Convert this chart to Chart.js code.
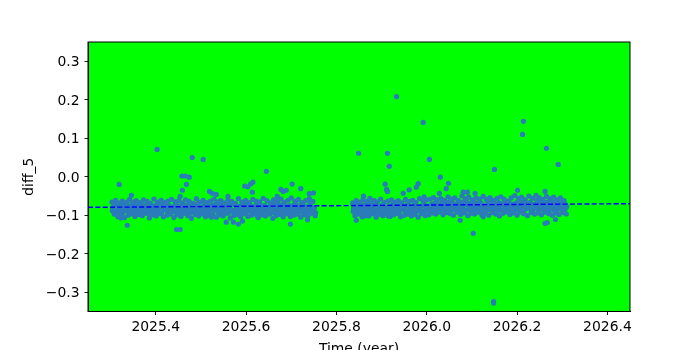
<!DOCTYPE html>
<html><head><meta charset="utf-8">
<script src="https://cdn.jsdelivr.net/npm/chart.js@4"></script>
<style>html,body{margin:0;padding:0;background:#fff;overflow:hidden}</style>
</head><body><canvas id="c" width="700" height="350"></canvas>
<script>
const xTicks = [2025.4, 2025.6, 2025.8, 2026.0, 2026.2, 2026.4];
const yTicks = [-0.3, -0.2, -0.1, 0.0, 0.1, 0.2, 0.3];
const xLabel = 'Time (year)';
const yLabel = 'diff_5';

const season1Years = [
2025.303,2025.306,2025.304,2025.308, 2025.311,2025.314,2025.312,2025.316, 2025.318,2025.321,2025.319,2025.323,
2025.326,2025.329,2025.327,2025.331, 2025.334,2025.337,2025.335,2025.339, 2025.342,2025.345,2025.343,2025.347,
2025.349,2025.352,2025.350,2025.354, 2025.357,2025.360,2025.358,2025.362, 2025.365,2025.368,2025.366,2025.370,
2025.373,2025.376,2025.374,2025.378, 2025.381,2025.384,2025.382,2025.386, 2025.388,2025.391,2025.389,2025.393,
2025.396,2025.399,2025.397,2025.401, 2025.404,2025.407,2025.405,2025.409, 2025.412,2025.415,2025.413,2025.417,
2025.420,2025.423,2025.421,2025.425, 2025.427,2025.430,2025.428,2025.432, 2025.435,2025.438,2025.436,2025.440,
2025.443,2025.446,2025.444,2025.448, 2025.451,2025.454,2025.452,2025.456, 2025.459,2025.462,2025.460,2025.464,
2025.466,2025.469,2025.467,2025.471, 2025.474,2025.477,2025.475,2025.479, 2025.482,2025.485,2025.483,2025.487,
2025.490,2025.493,2025.491,2025.495, 2025.498,2025.501,2025.499,2025.503, 2025.505,2025.508,2025.506,2025.510,
2025.513,2025.516,2025.514,2025.518, 2025.521,2025.524,2025.522,2025.526, 2025.529,2025.532,2025.530,2025.534,
2025.537,2025.540,2025.538,2025.542, 2025.544,2025.547,2025.545,2025.549, 2025.552,2025.555,2025.553,2025.557,
2025.560,2025.563,2025.561,2025.565, 2025.568,2025.571,2025.569,2025.573, 2025.576,2025.579,2025.577,2025.581,
2025.583,2025.586,2025.584,2025.588, 2025.591,2025.594,2025.592,2025.596, 2025.599,2025.602,2025.600,2025.604,
2025.607,2025.610,2025.608,2025.612, 2025.615,2025.618,2025.616,2025.620, 2025.622,2025.625,2025.623,2025.627,
2025.630,2025.633,2025.631,2025.635, 2025.638,2025.641,2025.639,2025.643, 2025.646,2025.649,2025.647,2025.651,
2025.654,2025.657,2025.655,2025.659, 2025.661,2025.664,2025.662,2025.666, 2025.669,2025.672,2025.670,2025.674,
2025.677,2025.680,2025.678,2025.682, 2025.685,2025.688,2025.686,2025.690, 2025.693,2025.696,2025.694,2025.698,
2025.700,2025.703,2025.701,2025.705, 2025.708,2025.711,2025.709,2025.713, 2025.716,2025.719,2025.717,2025.721,
2025.724,2025.727,2025.725,2025.729, 2025.732,2025.735,2025.733,2025.737, 2025.740,2025.743,2025.741,2025.745,
2025.748,2025.751,2025.749,2025.753,
2025.319,2025.346,2025.337,2025.323,2025.403,2025.446,2025.454,2025.458,2025.466,2025.474,2025.468,2025.459,
2025.454,2025.481,2025.505,2025.519,2025.525,2025.534,2025.523,2025.560,2025.556,2025.572,2025.583,2025.592,
2025.597,2025.604,2025.610,2025.615,2025.614,2025.626,2025.645,2025.669,2025.677,2025.682,2025.689,2025.698,
2025.702,2025.721,2025.736,2025.740,2025.749
];
const season1Diff = [
-0.066,-0.078,-0.088,-0.097, -0.061,-0.074,-0.091,-0.104, -0.068,-0.081,-0.086,-0.099,
-0.063,-0.072,-0.093,-0.106, -0.070,-0.077,-0.085,-0.100, -0.059,-0.075,-0.090,-0.096,
-0.065,-0.080,-0.087,-0.103, -0.062,-0.073,-0.092,-0.098, -0.067,-0.079,-0.084,-0.101,
-0.060,-0.076,-0.089,-0.095, -0.064,-0.071,-0.094,-0.107, -0.069,-0.082,-0.086,-0.099,
-0.058,-0.074,-0.091,-0.102, -0.066,-0.078,-0.088,-0.096, -0.061,-0.072,-0.093,-0.104,
-0.067,-0.080,-0.085,-0.100, -0.063,-0.075,-0.090,-0.097, -0.059,-0.079,-0.087,-0.106,
-0.065,-0.073,-0.092,-0.099, -0.062,-0.077,-0.084,-0.103, -0.068,-0.081,-0.089,-0.095,
-0.060,-0.074,-0.094,-0.101, -0.064,-0.078,-0.086,-0.108, -0.069,-0.071,-0.091,-0.098,
-0.057,-0.076,-0.088,-0.102, -0.066,-0.080,-0.085,-0.096, -0.061,-0.073,-0.093,-0.104,
-0.067,-0.079,-0.087,-0.100, -0.063,-0.075,-0.090,-0.097, -0.058,-0.072,-0.084,-0.105,
-0.065,-0.081,-0.092,-0.099, -0.062,-0.077,-0.089,-0.102, -0.068,-0.074,-0.086,-0.095,
-0.060,-0.079,-0.094,-0.107, -0.064,-0.071,-0.088,-0.101, -0.069,-0.082,-0.085,-0.098,
-0.057,-0.076,-0.091,-0.104, -0.066,-0.073,-0.087,-0.096, -0.061,-0.080,-0.093,-0.103,
-0.067,-0.075,-0.084,-0.100, -0.059,-0.078,-0.090,-0.097, -0.063,-0.072,-0.088,-0.106,
-0.065,-0.081,-0.092,-0.099, -0.056,-0.074,-0.086,-0.102, -0.062,-0.079,-0.089,-0.095,
-0.068,-0.076,-0.094,-0.108, -0.060,-0.071,-0.085,-0.101, -0.064,-0.080,-0.091,-0.098,
-0.058,-0.073,-0.087,-0.104, -0.066,-0.077,-0.093,-0.096, -0.061,-0.082,-0.088,-0.103,
-0.055,-0.075,-0.084,-0.100, -0.063,-0.072,-0.090,-0.097, -0.059,-0.079,-0.086,-0.105,
-0.067,-0.074,-0.092,-0.099, -0.062,-0.078,-0.089,-0.102, -0.057,-0.076,-0.085,-0.095,
-0.064,-0.080,-0.091,-0.101,
-0.020,-0.048,-0.126,-0.107,0.071,-0.137,-0.137,0.002,0.002,-0.001,-0.020,-0.035,
-0.051,0.050,0.045,-0.038,-0.043,-0.046,-0.105,-0.051,-0.118,-0.118,-0.123,-0.115,
-0.024,-0.026,-0.019,-0.014,-0.040,-0.104,0.014,-0.051,-0.033,-0.038,-0.035,-0.123,
-0.019,-0.031,-0.112,-0.044,-0.042
];
const season1CoreYears = [
2025.305,2025.309, 2025.313,2025.317, 2025.320,2025.324, 2025.328,2025.332, 2025.336,2025.340, 2025.344,2025.348,
2025.351,2025.355, 2025.359,2025.363, 2025.367,2025.371, 2025.375,2025.379, 2025.383,2025.387, 2025.390,2025.394,
2025.398,2025.402, 2025.406,2025.410, 2025.414,2025.418, 2025.422,2025.426, 2025.429,2025.433, 2025.437,2025.441,
2025.445,2025.449, 2025.453,2025.457, 2025.461,2025.465, 2025.468,2025.472, 2025.476,2025.480, 2025.484,2025.488,
2025.492,2025.496, 2025.500,2025.504, 2025.507,2025.511, 2025.515,2025.519, 2025.523,2025.527, 2025.531,2025.535,
2025.539,2025.543, 2025.546,2025.550, 2025.554,2025.558, 2025.562,2025.566, 2025.570,2025.574, 2025.578,2025.582,
2025.585,2025.589, 2025.593,2025.597, 2025.601,2025.605, 2025.609,2025.613, 2025.617,2025.621, 2025.624,2025.628,
2025.632,2025.636, 2025.640,2025.644, 2025.648,2025.652, 2025.656,2025.660, 2025.663,2025.667, 2025.671,2025.675,
2025.679,2025.683, 2025.687,2025.691, 2025.695,2025.699, 2025.702,2025.706, 2025.710,2025.714, 2025.718,2025.722,
2025.726,2025.730, 2025.734,2025.738, 2025.742,2025.746, 2025.750,2025.754
];
const season1CoreDiff = [
-0.083,-0.092, -0.070,-0.085, -0.094,-0.076, -0.081,-0.088, -0.066,-0.093, -0.084,-0.079,
-0.072,-0.095, -0.086,-0.081, -0.091,-0.073, -0.079,-0.087, -0.083,-0.097, -0.075,-0.090,
-0.087,-0.082, -0.093,-0.071, -0.080,-0.086, -0.074,-0.095, -0.085,-0.082, -0.091,-0.077,
-0.078,-0.088, -0.088,-0.094, -0.076,-0.083, -0.084,-0.091, -0.095,-0.072, -0.081,-0.086,
-0.070,-0.092, -0.087,-0.079, -0.083,-0.096, -0.074,-0.089, -0.092,-0.082, -0.078,-0.087,
-0.086,-0.073, -0.095,-0.084, -0.080,-0.091, -0.072,-0.085, -0.089,-0.097, -0.077,-0.083,
-0.084,-0.093, -0.094,-0.079, -0.071,-0.087, -0.088,-0.092, -0.083,-0.075, -0.096,-0.080,
-0.074,-0.086, -0.090,-0.082, -0.084,-0.097, -0.079,-0.088, -0.093,-0.076, -0.070,-0.085,
-0.086,-0.094, -0.082,-0.078, -0.075,-0.091, -0.092,-0.087, -0.081,-0.096, -0.088,-0.073,
-0.083,-0.090, -0.095,-0.081, -0.069,-0.087, -0.084,-0.093
];

const season2Years = [
2025.836,2025.839,2025.837,2025.841, 2025.844,2025.847,2025.845,2025.849, 2025.852,2025.855,2025.853,2025.857,
2025.859,2025.862,2025.860,2025.864, 2025.867,2025.870,2025.868,2025.872, 2025.875,2025.878,2025.876,2025.880,
2025.883,2025.886,2025.884,2025.888, 2025.891,2025.894,2025.892,2025.896, 2025.898,2025.901,2025.899,2025.903,
2025.906,2025.909,2025.907,2025.911, 2025.914,2025.917,2025.915,2025.919, 2025.922,2025.925,2025.923,2025.927,
2025.930,2025.933,2025.931,2025.935, 2025.937,2025.940,2025.938,2025.942, 2025.945,2025.948,2025.946,2025.950,
2025.953,2025.956,2025.954,2025.958, 2025.961,2025.964,2025.962,2025.966, 2025.969,2025.972,2025.970,2025.974,
2025.976,2025.979,2025.977,2025.981, 2025.984,2025.987,2025.985,2025.989, 2025.992,2025.995,2025.993,2025.997,
2026.000,2026.003,2026.001,2026.005, 2026.008,2026.011,2026.009,2026.013, 2026.015,2026.018,2026.016,2026.020,
2026.023,2026.026,2026.024,2026.028, 2026.031,2026.034,2026.032,2026.036, 2026.039,2026.042,2026.040,2026.044,
2026.047,2026.050,2026.048,2026.052, 2026.054,2026.057,2026.055,2026.059, 2026.062,2026.065,2026.063,2026.067,
2026.070,2026.073,2026.071,2026.075, 2026.078,2026.081,2026.079,2026.083, 2026.086,2026.089,2026.087,2026.091,
2026.093,2026.096,2026.094,2026.098, 2026.101,2026.104,2026.102,2026.106, 2026.109,2026.112,2026.110,2026.114,
2026.117,2026.120,2026.118,2026.122, 2026.125,2026.128,2026.126,2026.130, 2026.132,2026.135,2026.133,2026.137,
2026.140,2026.143,2026.141,2026.145, 2026.148,2026.151,2026.149,2026.153, 2026.156,2026.159,2026.157,2026.161,
2026.164,2026.167,2026.165,2026.169, 2026.171,2026.174,2026.172,2026.176, 2026.179,2026.182,2026.180,2026.184,
2026.187,2026.190,2026.188,2026.192, 2026.195,2026.198,2026.196,2026.200, 2026.203,2026.206,2026.204,2026.208,
2026.210,2026.213,2026.211,2026.215, 2026.218,2026.221,2026.219,2026.223, 2026.226,2026.229,2026.227,2026.231,
2026.234,2026.237,2026.235,2026.239, 2026.242,2026.245,2026.243,2026.247, 2026.249,2026.252,2026.250,2026.254,
2026.257,2026.260,2026.258,2026.262, 2026.265,2026.268,2026.266,2026.270, 2026.273,2026.276,2026.274,2026.278,
2026.281,2026.284,2026.282,2026.286, 2026.288,2026.291,2026.289,2026.293, 2026.296,2026.299,2026.297,2026.301,
2026.304,2026.307,2026.305,2026.309,
2025.844,2025.849,2025.860,2025.863,2025.874,2025.908,2025.911,2025.913,2025.913,2025.917,2025.915,2025.933,
2025.948,2025.961,2025.977,2025.981,2025.992,2025.994,2026.006,2026.028,2026.030,2026.043,2026.048,2026.074,
2026.081,2026.090,2026.107,2026.103,2026.125,2026.150,2026.148,2026.148,2026.201,2026.212,2026.214,2026.262,
2026.265,2026.262,2026.267,2026.285,2026.291
];
const season2Diff = [
-0.068,-0.079,-0.090,-0.101, -0.062,-0.075,-0.086,-0.097, -0.066,-0.081,-0.092,-0.104,
-0.059,-0.073,-0.087,-0.099, -0.064,-0.077,-0.084,-0.102, -0.069,-0.080,-0.091,-0.096,
-0.061,-0.072,-0.088,-0.105, -0.065,-0.078,-0.085,-0.098, -0.058,-0.074,-0.093,-0.101,
-0.067,-0.082,-0.089,-0.097, -0.063,-0.076,-0.086,-0.103, -0.060,-0.071,-0.090,-0.099,
-0.066,-0.079,-0.087,-0.095, -0.062,-0.075,-0.092,-0.104, -0.068,-0.080,-0.084,-0.100,
-0.059,-0.073,-0.089,-0.097, -0.064,-0.078,-0.086,-0.102, -0.061,-0.074,-0.091,-0.098,
-0.067,-0.081,-0.088,-0.105, -0.057,-0.076,-0.085,-0.096, -0.063,-0.072,-0.090,-0.101,
-0.060,-0.077,-0.087,-0.099, -0.058,-0.071,-0.083,-0.094, -0.054,-0.068,-0.080,-0.097,
-0.060,-0.073,-0.085,-0.091, -0.056,-0.066,-0.078,-0.099, -0.061,-0.070,-0.083,-0.093,
-0.052,-0.074,-0.081,-0.096, -0.058,-0.067,-0.086,-0.100, -0.055,-0.072,-0.079,-0.092,
-0.062,-0.069,-0.084,-0.098, -0.050,-0.065,-0.080,-0.094, -0.057,-0.073,-0.087,-0.101,
-0.053,-0.070,-0.082,-0.095, -0.060,-0.066,-0.078,-0.097, -0.055,-0.071,-0.085,-0.092,
-0.058,-0.068,-0.080,-0.099, -0.051,-0.074,-0.083,-0.094, -0.059,-0.069,-0.087,-0.100,
-0.054,-0.065,-0.079,-0.093, -0.061,-0.072,-0.084,-0.097, -0.056,-0.067,-0.081,-0.102,
-0.052,-0.070,-0.086,-0.095, -0.058,-0.073,-0.078,-0.091, -0.063,-0.066,-0.082,-0.098,
-0.055,-0.071,-0.085,-0.094, -0.049,-0.068,-0.080,-0.100, -0.057,-0.074,-0.087,-0.092,
-0.053,-0.065,-0.079,-0.096, -0.060,-0.070,-0.083,-0.101, -0.050,-0.067,-0.081,-0.093,
-0.056,-0.072,-0.086,-0.097, -0.048,-0.069,-0.078,-0.094, -0.054,-0.064,-0.084,-0.099,
-0.059,-0.071,-0.080,-0.092, -0.051,-0.066,-0.085,-0.096, -0.057,-0.073,-0.082,-0.100,
-0.053,-0.068,-0.079,-0.094, -0.060,-0.070,-0.086,-0.098, -0.055,-0.065,-0.081,-0.093,
-0.062,-0.072,-0.084,-0.097,
-0.113,0.061,-0.050,-0.102,-0.056,-0.019,-0.033,-0.038,0.061,0.027,-0.102,0.208,
-0.043,-0.034,-0.027,-0.018,0.141,-0.052,0.045,-0.043,-0.001,-0.031,-0.017,-0.113,
-0.040,-0.040,-0.043,-0.147,-0.104,0.019,-0.324,-0.328,-0.035,0.110,0.144,-0.038,
0.074,-0.121,-0.119,-0.111,0.032
];
const season2CoreYears = [
2025.838,2025.842, 2025.846,2025.850, 2025.854,2025.858, 2025.861,2025.865, 2025.869,2025.873, 2025.877,2025.881,
2025.885,2025.889, 2025.893,2025.897, 2025.900,2025.904, 2025.908,2025.912, 2025.916,2025.920, 2025.924,2025.928,
2025.932,2025.936, 2025.939,2025.943, 2025.947,2025.951, 2025.955,2025.959, 2025.963,2025.967, 2025.971,2025.975,
2025.978,2025.982, 2025.986,2025.990, 2025.994,2025.998, 2026.002,2026.006, 2026.010,2026.014, 2026.017,2026.021,
2026.025,2026.029, 2026.033,2026.037, 2026.041,2026.045, 2026.049,2026.053, 2026.056,2026.060, 2026.064,2026.068,
2026.072,2026.076, 2026.080,2026.084, 2026.088,2026.092, 2026.095,2026.099, 2026.103,2026.107, 2026.111,2026.115,
2026.119,2026.123, 2026.127,2026.131, 2026.134,2026.138, 2026.142,2026.146, 2026.150,2026.154, 2026.158,2026.162,
2026.166,2026.170, 2026.173,2026.177, 2026.181,2026.185, 2026.189,2026.193, 2026.197,2026.201, 2026.205,2026.209,
2026.212,2026.216, 2026.220,2026.224, 2026.228,2026.232, 2026.236,2026.240, 2026.244,2026.248, 2026.251,2026.255,
2026.259,2026.263, 2026.267,2026.271, 2026.275,2026.279, 2026.283,2026.287, 2026.290,2026.294, 2026.298,2026.302,
2026.306,2026.310
];
const season2CoreDiff = [
-0.084,-0.093, -0.071,-0.088, -0.095,-0.078, -0.082,-0.090, -0.068,-0.094, -0.086,-0.080,
-0.074,-0.096, -0.089,-0.083, -0.092,-0.075, -0.080,-0.087, -0.085,-0.097, -0.077,-0.091,
-0.088,-0.083, -0.094,-0.072, -0.081,-0.087, -0.075,-0.096, -0.086,-0.083, -0.092,-0.078,
-0.079,-0.089, -0.089,-0.094, -0.076,-0.085, -0.084,-0.091, -0.075,-0.088, -0.086,-0.070,
-0.078,-0.091, -0.071,-0.084, -0.089,-0.076, -0.066,-0.087, -0.080,-0.072, -0.087,-0.078,
-0.074,-0.090, -0.083,-0.069, -0.064,-0.086, -0.078,-0.089, -0.087,-0.073, -0.070,-0.082,
-0.076,-0.092, -0.088,-0.079, -0.073,-0.085, -0.067,-0.090, -0.081,-0.075, -0.089,-0.071,
-0.077,-0.084, -0.066,-0.088, -0.085,-0.074, -0.079,-0.091, -0.072,-0.084, -0.090,-0.068,
-0.075,-0.086, -0.082,-0.077, -0.069,-0.089, -0.084,-0.074, -0.061,-0.087, -0.077,-0.082,
-0.086,-0.068, -0.072,-0.090, -0.080,-0.066, -0.088,-0.075, -0.064,-0.083, -0.076,-0.089,
-0.085,-0.078
];

const fitYears = [2025.25, 2026.45];
const fitDiff = [-0.0795, -0.0700];

const FONT = {family: "'DejaVu Sans', sans-serif", size: 13.9};

const toPoints = (xs, ys) => xs.map((x, i) => ({x: x, y: ys[i]}));
const points = toPoints(season1Years, season1Diff)
  .concat(toPoints(season1CoreYears, season1CoreDiff))
  .concat(toPoints(season2Years, season2Diff))
  .concat(toPoints(season2CoreYears, season2CoreDiff));

const frame = {
  id: 'frame',
  beforeDraw(chart) {
    const {ctx, chartArea: a} = chart;
    ctx.save();
    ctx.fillStyle = '#ffffff';
    ctx.fillRect(0, 0, chart.width, chart.height);
    ctx.fillStyle = '#00ff00';
    ctx.fillRect(a.left, a.top, a.right - a.left, a.bottom - a.top);
    ctx.restore();
  },
  afterDraw(chart) {
    const {ctx, chartArea: a} = chart;
    ctx.save();
    ctx.strokeStyle = '#000';
    ctx.lineWidth = 1;
    ctx.strokeRect(a.left, a.top, a.right - a.left, a.bottom - a.top);
    ctx.restore();
  }
};

new Chart(document.getElementById('c'), {
  type: 'scatter',
  data: {
    datasets: [
      {
        type: 'line',
        data: toPoints(fitYears, fitDiff),
        borderColor: '#0000ff',
        borderWidth: 1.4,
        borderDash: [5.1, 2.2],
        pointRadius: 0,
        fill: false,
        showLine: true
      },
      {
        data: points,
        pointRadius: 2.6,
        pointBackgroundColor: '#2b7bba',
        pointBorderWidth: 0,
        pointBorderColor: '#2b7bba',
        borderColor: 'rgba(0,0,0,0)'
      }
    ]
  },
  options: {
    responsive: false,
    animation: false,
    devicePixelRatio: 1,
    layout: {padding: {left: 0, right: 70, top: 42, bottom: 0}},
    plugins: {legend: {display: false}, tooltip: {enabled: false}},
    scales: {
      x: {
        type: 'linear',
        min: 2025.25,
        max: 2026.45,
        afterBuildTicks: s => { s.ticks = xTicks.map(v => ({value: v})); },
        afterFit: s => { s.height = 38.5; },
        ticks: {callback: v => v.toFixed(1), font: FONT, color: '#000', padding: 4.5, maxRotation: 0, autoSkip: false},
        grid: {drawOnChartArea: false, drawTicks: true, tickLength: 3.5, tickWidth: 0.9, tickColor: '#000'},
        border: {display: true, color: '#000', width: 1},
        title: {display: true, text: xLabel, font: FONT, color: '#000', padding: {top: 0, bottom: -7.5}}
      },
      y: {
        type: 'linear',
        min: -0.35,
        max: 0.35,
        afterBuildTicks: s => { s.ticks = yTicks.map(v => ({value: v})); },
        afterFit: s => { s.width = 88; },
        ticks: {callback: v => (v < 0 ? '\u2212' : '') + Math.abs(v).toFixed(1), font: FONT, color: '#000', padding: 5, labelOffset: 1.5},
        grid: {drawOnChartArea: false, drawTicks: true, tickLength: 3.5, tickWidth: 0.9, tickColor: '#000'},
        border: {display: true, color: '#000', width: 1},
        title: {display: true, text: yLabel, font: FONT, color: '#000', padding: {top: 21.5, bottom: 0}}
      }
    }
  },
  plugins: [frame]
});
</script>
</body></html>
